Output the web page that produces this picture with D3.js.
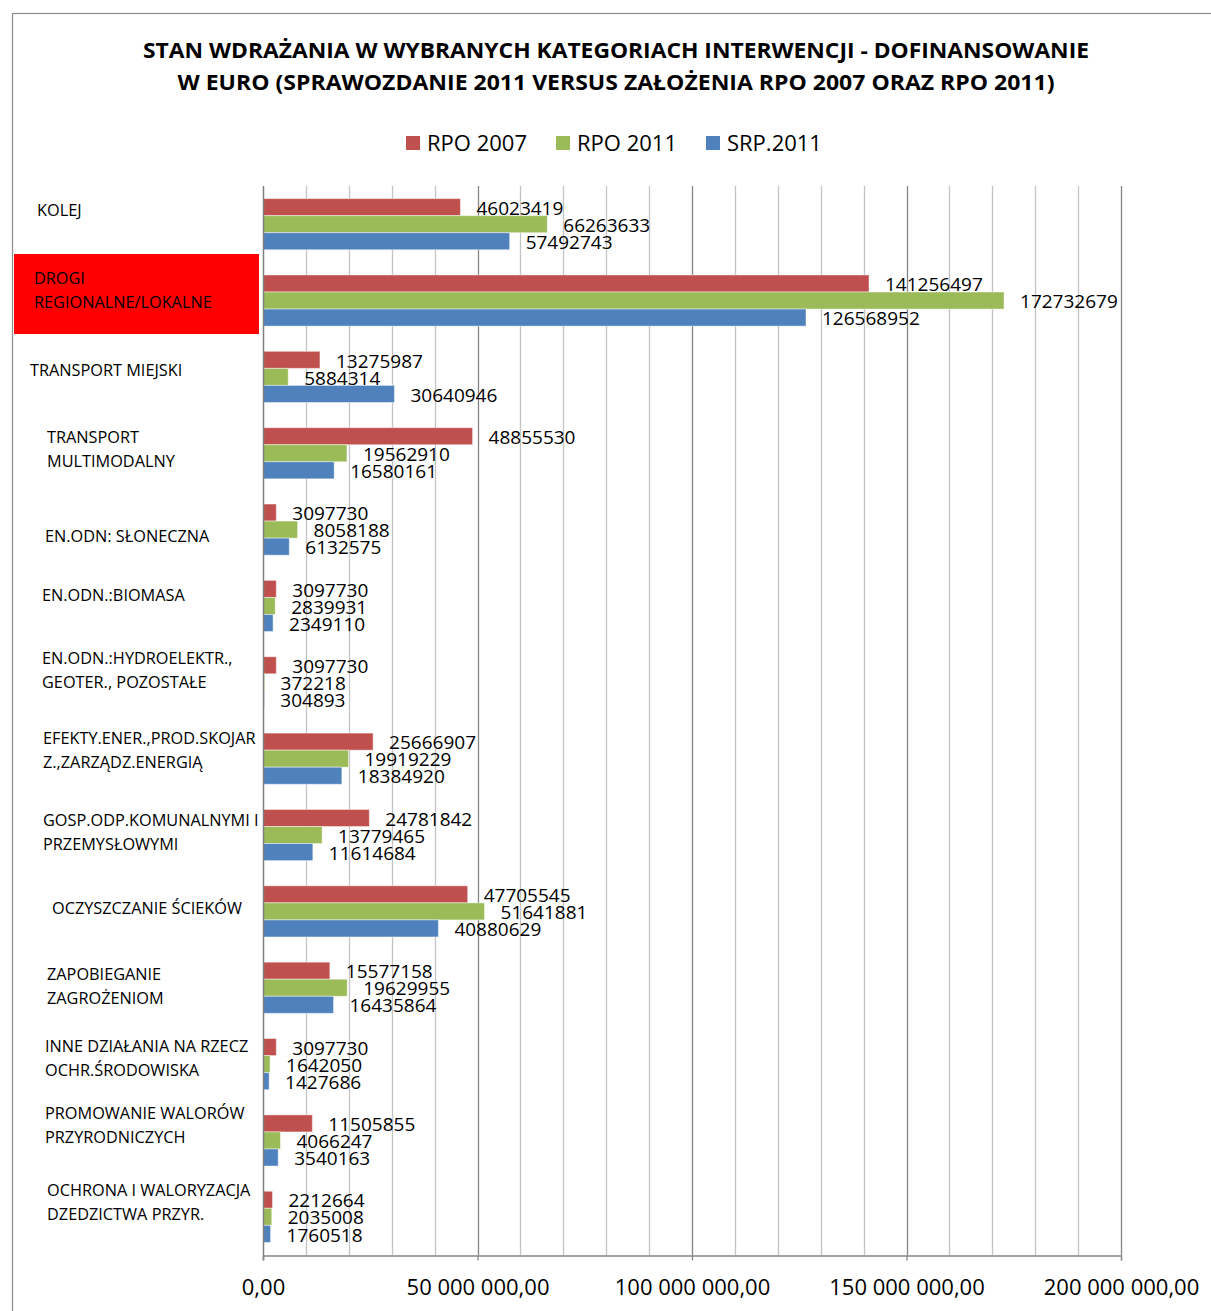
<!DOCTYPE html>
<html>
<head>
<meta charset="utf-8">
<script src="https://cdn.jsdelivr.net/npm/d3@7"></script>
<style>
  html, body { margin: 0; padding: 0; background: #fff; }
  svg { display: block; }
  text { font-family: "Open Sans", "Noto Sans", sans-serif; fill: #000; }
</style>
</head>
<body>
<svg id="chart" width="1211" height="1311"></svg>
<script>
// --- dane ---
const TITLE_LINES = [
  "STAN WDRAŻANIA W WYBRANYCH KATEGORIACH INTERWENCJI - DOFINANSOWANIE",
  "W EURO (SPRAWOZDANIE 2011 VERSUS ZAŁOŻENIA RPO 2007 ORAZ RPO 2011)"
];

const SERIES = ["RPO 2007", "RPO 2011", "SRP.2011"];
const SERIES_COLORS = ["#C0504D", "#9BBB59", "#4F81BD"];

const CATEGORIES = [
  ["KOLEJ"],
  ["DROGI", "REGIONALNE/LOKALNE"],
  ["TRANSPORT MIEJSKI"],
  ["TRANSPORT", "MULTIMODALNY"],
  ["EN.ODN: SŁONECZNA"],
  ["EN.ODN.:BIOMASA"],
  ["EN.ODN.:HYDROELEKTR.,", "GEOTER., POZOSTAŁE"],
  ["EFEKTY.ENER.,PROD.SKOJAR", "Z.,ZARZĄDZ.ENERGIĄ"],
  ["GOSP.ODP.KOMUNALNYMI I", "PRZEMYSŁOWYMI"],
  ["OCZYSZCZANIE ŚCIEKÓW"],
  ["ZAPOBIEGANIE", "ZAGROŻENIOM"],
  ["INNE DZIAŁANIA NA RZECZ", "OCHR.ŚRODOWISKA"],
  ["PROMOWANIE WALORÓW", "PRZYRODNICZYCH"],
  ["OCHRONA I WALORYZACJA", "DZEDZICTWA PRZYR."]
];

const RPO_2007 = [46023419, 141256497, 13275987, 48855530, 3097730, 3097730, 3097730,
                  25666907, 24781842, 47705545, 15577158, 3097730, 11505855, 2212664];
const RPO_2011 = [66263633, 172732679, 5884314, 19562910, 8058188, 2839931, 372218,
                  19919229, 13779465, 51641881, 19629955, 1642050, 4066247, 2035008];
const SRP_2011 = [57492743, 126568952, 30640946, 16580161, 6132575, 2349110, 304893,
                  18384920, 11614684, 40880629, 16435864, 1427686, 3540163, 1760518];

const HIGHLIGHTED = 1; // DROGI REGIONALNE/LOKALNE
const X_MAX = 200000000;
const GRID_STEP = 10000000;
const LABEL_STEP = 50000000;

// układ etykiet kategorii (wcięcie z lewej, przesunięcie pionowe) — jak w komórkach arkusza
const LABEL_INDENT = [37, 34, 30, 47, 45, 42, 42, 43, 43, 52, 47, 45, 45, 47];
const LABEL_NUDGE  = [-9, -5, -2, 1, 12, -6, -7, -3, 2, 2, 4, -1, -10, -10];

// --- rysowanie ---
const svg = d3.select("#chart");
const plot = { left: 263, right: 1121, top: 186, bottom: 1255 };

// ramka wykresu
svg.append("rect")
  .attr("x", 12.5).attr("y", 13.5)
  .attr("width", 1230).attr("height", 1330)
  .attr("fill", "none").attr("stroke", "#8c8c8c").attr("stroke-width", 1.2);

// tytuł
svg.selectAll("text.title")
  .data(TITLE_LINES)
  .enter().append("text")
  .attr("class", "title")
  .attr("x", 616)
  .attr("y", (d, i) => 58 + i * 32)
  .attr("text-anchor", "middle")
  .attr("font-size", 22)
  .attr("font-weight", "bold")
  .attr("textLength", (d, i) => i === 0 ? 946 : 877)
  .attr("lengthAdjust", "spacingAndGlyphs")
  .text(d => d);

const x = d3.scaleLinear().domain([0, X_MAX]).range([plot.left, plot.right]);

const y = d3.scaleBand()
  .domain(d3.range(CATEGORIES.length))
  .range([plot.top, plot.bottom])
  .paddingInner(0.33)
  .paddingOuter(0.165);

const ySub = d3.scaleBand().domain(d3.range(SERIES.length)).range([0, y.bandwidth()]);

const values = [RPO_2007, RPO_2011, SRP_2011];
const rows = CATEGORIES.map((c, i) => ({
  i, lines: c,
  vals: values.map((s, k) => ({ k, v: s[i] }))
}));

// siatka
const gridTicks = d3.range(GRID_STEP, X_MAX + 1, GRID_STEP);
svg.append("g").selectAll("line")
  .data(gridTicks)
  .enter().append("line")
  .attr("x1", d => Math.round(x(d)) + 0.5).attr("x2", d => Math.round(x(d)) + 0.5)
  .attr("y1", plot.top).attr("y2", plot.bottom)
  .attr("stroke", d => d % LABEL_STEP === 0 ? "#868686" : "#c4c4c4")
  .attr("stroke-width", 1.3);

// podświetlenie kategorii
svg.append("rect")
  .attr("x", 14).attr("y", y(HIGHLIGHTED) + y.bandwidth() / 2 - 46.5)
  .attr("width", 245).attr("height", 80)
  .attr("fill", "#FF0000");

// słupki
const groups = svg.append("g").selectAll("g")
  .data(rows)
  .enter().append("g")
  .attr("transform", d => `translate(0,${y(d.i)})`);

groups.selectAll("rect")
  .data(d => d.vals)
  .enter().append("rect")
  .attr("x", x(0))
  .attr("y", d => ySub(d.k))
  .attr("width", d => Math.max(0.8, x(d.v) - x(0)))
  .attr("height", ySub.bandwidth())
  .attr("fill", d => SERIES_COLORS[d.k])
  .attr("stroke", "rgba(255,255,255,0.45)")
  .attr("stroke-width", 1);

// etykiety wartości
groups.selectAll("text.val")
  .data(d => d.vals)
  .enter().append("text")
  .attr("class", "val")
  .attr("x", d => x(d.v) + 16)
  .attr("y", d => ySub(d.k) + ySub.bandwidth() / 2 + 1)
  .attr("dy", "0.35em")
  .attr("font-size", 19)
  .text(d => d.v);

// oś pionowa (0) i dolna
svg.append("line")
  .attr("x1", x(0) + 0.5).attr("x2", x(0) + 0.5)
  .attr("y1", plot.top).attr("y2", plot.bottom + 5)
  .attr("stroke", "#7f7f7f").attr("stroke-width", 1.5);

const xAxis = svg.append("g")
  .attr("transform", `translate(0,${plot.bottom + 0.5})`)
  .call(d3.axisBottom(x)
    .tickValues(d3.range(0, X_MAX + 1, LABEL_STEP))
    .tickSize(5)
    .tickPadding(19)
    .tickFormat(d => d3.format(",.2f")(d).replace(/,/g, " ").replace(".", ",")));
xAxis.select(".domain").attr("stroke", "#868686").attr("stroke-width", 1.3);
xAxis.selectAll(".tick line").attr("stroke", "#868686").attr("stroke-width", 1.3);
xAxis.selectAll(".tick text")
  .attr("font-size", 22)
  .attr("font-family", "'Open Sans', sans-serif")
  .attr("fill", "#000");

// etykiety kategorii
const catLabels = svg.append("g").selectAll("text")
  .data(rows)
  .enter().append("text")
  .attr("font-size", 16.3)
  .attr("fill", d => d.i === HIGHLIGHTED ? "#1a0000" : "#000")
  .attr("transform", d => {
    const cy = y(d.i) + y.bandwidth() / 2 - 5 + LABEL_NUDGE[d.i];
    return `translate(${LABEL_INDENT[d.i]},${cy - (d.lines.length - 1) * 12})`;
  });
catLabels.selectAll("tspan")
  .data(d => d.lines)
  .enter().append("tspan")
  .attr("x", 0)
  .attr("y", (d, j) => j * 24)
  .attr("dy", "0.35em")
  .text(d => d);

// legenda
const legend = svg.append("g");
let lx = 0;
SERIES.forEach((s, k) => {
  const it = legend.append("g").attr("transform", `translate(${lx},0)`);
  it.append("rect").attr("x", 0).attr("y", -13).attr("width", 14).attr("height", 14)
    .attr("fill", SERIES_COLORS[k]);
  const t = it.append("text").attr("x", 21).attr("y", 0).attr("dy", "0.1em")
    .attr("font-size", 22).text(s);
  lx += 21 + t.node().getComputedTextLength() + 29;
});
const legendW = lx - 29;
legend.attr("transform", `translate(${614 - legendW / 2},149)`);
</script>
</body>
</html>
